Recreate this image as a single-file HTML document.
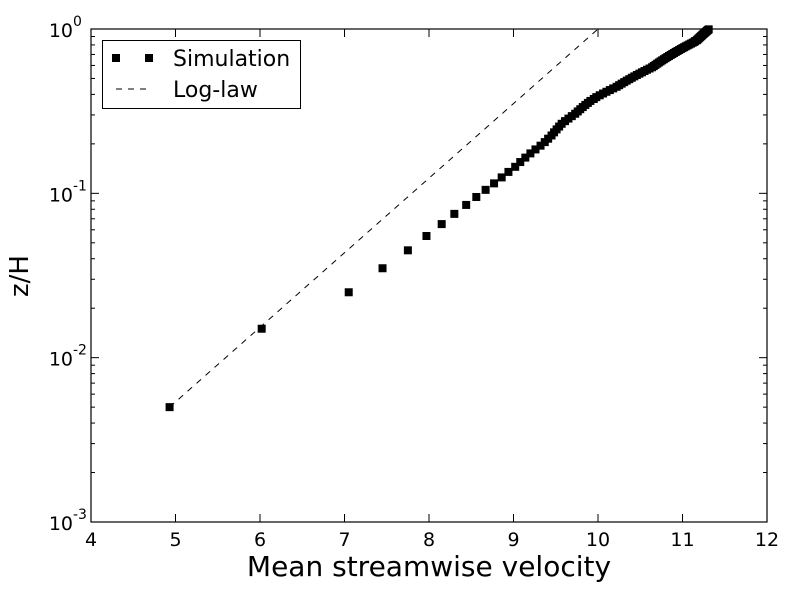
<!DOCTYPE html>
<html><head><meta charset="utf-8"><style>
html,body{margin:0;padding:0;background:#fff;}
svg{display:block;font-family:"DejaVu Sans","Liberation Sans",sans-serif;}
</style></head><body>
<svg id="chart" width="800" height="600" viewBox="0 0 800 600" xmlns="http://www.w3.org/2000/svg">
<rect x="91" y="29" width="676" height="493" fill="#fff"/>
<g id="marks"></g>
<g id="axes"></g>
<text x="429" y="576" font-size="28" text-anchor="middle">Mean streamwise velocity</text>
<text x="0" y="0" font-size="26" text-anchor="middle" transform="translate(28,276) rotate(-90)">z/H</text>
<g>
<rect x="102.5" y="40.5" width="198" height="68" fill="#fff" stroke="#000" stroke-width="1"/>
<rect x="112" y="54" width="8" height="8" fill="#000"/>
<rect x="145" y="54" width="8" height="8" fill="#000"/>
<text x="173" y="66" font-size="22">Simulation</text>
<line x1="116" y1="89" x2="146" y2="89" stroke="#000" stroke-dasharray="6,6"/>
<text x="173" y="97" font-size="22">Log-law</text>
</g>
</svg>
<script>
const zSim = [];
for (let i = 0; i < 100; i++) zSim.push(+(0.005 + 0.01 * i).toFixed(3));
const uSim = [4.93,6.02,7.05,7.45,7.75,7.97,8.15,8.30,8.44,8.56,
8.67,8.77,8.86,8.94,9.02,9.08,9.14,9.20,9.26,9.32,
9.37,9.41,9.45,9.48,9.51,9.54,9.57,9.61,9.65,9.69,
9.73,9.76,9.79,9.82,9.85,9.88,9.91,9.95,9.98,10.02,
10.06,10.10,10.14,10.18,10.22,10.25,10.28,10.31,10.34,10.37,
10.40,10.43,10.46,10.49,10.52,10.55,10.58,10.61,10.64,10.66,
10.68,10.70,10.72,10.74,10.76,10.78,10.80,10.82,10.84,10.86,
10.88,10.90,10.92,10.94,10.96,10.98,11.00,11.02,11.04,11.06,
11.08,11.10,11.12,11.14,11.15,11.17,11.18,11.19,11.20,11.21,
11.22,11.23,11.24,11.25,11.26,11.27,11.28,11.29,11.30,11.31];
const uLog = [4.93, 10.0];
const zLog = [0.005, 1.0];
const xTicks = [4,5,6,7,8,9,10,11,12];
const yTickExp = [-3,-2,-1,0];

const L=91, R=767, T=29, B=522;
const xS = u => L + (u-4)/(12-4)*(R-L);
const yS = z => T + (0 - Math.log10(z))/3*(B-T);
const NS="http://www.w3.org/2000/svg";
const marks=document.getElementById('marks'), axes=document.getElementById('axes');
function mk(tag, attrs, parent){const e=document.createElementNS(NS,tag);for(const k in attrs)e.setAttribute(k,attrs[k]);parent.appendChild(e);return e;}

const ll = mk('line',{x1:xS(uLog[0]),y1:yS(zLog[0]),x2:xS(uLog[1]),y2:yS(zLog[1]),stroke:'#000','stroke-width':1,'stroke-dasharray':'6,6'},marks);


for(let i=0;i<uSim.length;i++){
  const r=mk('rect',{x:xS(uSim[i])-4,y:yS(zSim[i])-4,width:8,height:8,fill:'#000'},marks);
  
  
}
const frame=mk('rect',{x:L,y:T,width:R-L,height:B-T,fill:'none',stroke:'#000','stroke-width':1.2},axes);


xTicks.forEach(v=>{
  const x=xS(v);
  mk('line',{x1:x,y1:B,x2:x,y2:B-8,stroke:'#000'},axes);
  mk('line',{x1:x,y1:T,x2:x,y2:T+8,stroke:'#000'},axes);
  const t=mk('text',{x:x,y:B+24,'font-size':19,'text-anchor':'middle'},axes);
  t.textContent=v;
  
  
});
yTickExp.forEach(e=>{
  const y=yS(Math.pow(10,e));
  mk('line',{x1:L,y1:y,x2:L+8,y2:y,stroke:'#000'},axes);
  mk('line',{x1:R,y1:y,x2:R-8,y2:y,stroke:'#000'},axes);
  const t=mk('text',{x:L-18,y:y+8,'font-size':19,'text-anchor':'end'},axes);
  t.textContent='10';
  
  
  const s=mk('text',{x:L-18,y:y-3,'font-size':14,'text-anchor':'start'},axes);
  s.textContent=String(e);
  
  
  if(e<0){for(let m=2;m<=9;m++){
    const ym=yS(m*Math.pow(10,e));
    mk('line',{x1:L,y1:ym,x2:L+4,y2:ym,stroke:'#000'},axes);
    mk('line',{x1:R,y1:ym,x2:R-4,y2:ym,stroke:'#000'},axes);
  }}
});
</script>
</body></html>
